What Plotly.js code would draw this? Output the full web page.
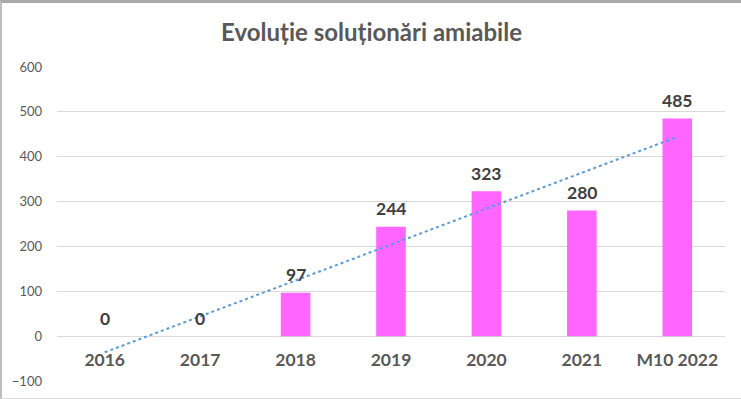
<!DOCTYPE html>
<html>
<head>
<meta charset="utf-8">
<script src="https://cdn.plot.ly/plotly-3.0.1.min.js"></script>
<style>
  html, body { margin: 0; padding: 0; background: #fff; }
  #wrap { width: 741px; height: 399px; box-sizing: border-box; border-top: 3px solid #a9a9a9; border-left: 2px solid #bdbdbd; border-bottom: 1px solid #dcdcdc; overflow: hidden; }
  #chart { width: 739px; height: 395px; }
</style>
</head>
<body>
<div id="wrap"><div id="chart"></div></div>
<script>
const categories = ["2016", "2017", "2018", "2019", "2020", "2021", "M10 2022"];
const values = [0, 0, 97, 244, 323, 280, 485];
const yTicks = [-100, 0, 100, 200, 300, 400, 500, 600];
const chartTitle = "Evoluție soluționări amiabile";

// Linear (least squares) trendline over category index, as in Excel
const n = values.length;
const xs = values.map((_, i) => i + 1);
const mx = xs.reduce((a, b) => a + b, 0) / n;
const my = values.reduce((a, b) => a + b, 0) / n;
let sxy = 0, sxx = 0;
xs.forEach((x, i) => { sxy += (x - mx) * (values[i] - my); sxx += (x - mx) * (x - mx); });
const slope = sxy / sxx;
const intercept = my - slope * mx;
const trend = xs.map(x => intercept + slope * x);

const FONT = "Lato, 'Open Sans', sans-serif";
const yMin = -100, yMax = 600;

const data = [
  {
    type: "bar",
    x: categories,
    y: values,
    width: 0.31,
    marker: { color: "#FF66FF" },
    hoverinfo: "none"
  },
  {
    type: "scatter",
    mode: "lines",
    x: categories,
    y: trend,
    line: { color: "#5B9BD5", width: 2, dash: "dot" },
    hoverinfo: "none"
  }
];

const annotations = categories.map((c, i) => ({
  x: i, y: values[i], xref: "x", yref: "y",
  text: String(values[i]),
  showarrow: false,
  yshift: 18,
  font: { family: FONT, size: 17.5, color: "#404040", weight: "bold" }
}));

const layout = {
  width: 739, height: 395,
  margin: { l: 55, r: 16, t: 64, b: 17 },
  paper_bgcolor: "#ffffff",
  plot_bgcolor: "#ffffff",
  showlegend: false,
  title: {
    text: chartTitle,
    x: 0.5, xanchor: "center",
    y: 0.925, yanchor: "middle", yref: "container",
    font: { family: FONT, size: 24, color: "#595959", weight: "bold" }
  },
  xaxis: {
    type: "category",
    domain: [0, 1],
    range: [-0.5, categories.length - 0.5],
    anchor: "free",
    position: (0 - yMin) / (yMax - yMin),
    showgrid: false,
    showline: false,
    zeroline: false,
    ticks: "",
    ticklabelstandoff: 11,
    tickfont: { family: FONT, size: 17.5, color: "#595959", weight: "bold" },
    fixedrange: true
  },
  yaxis: {
    domain: [0, 1],
    anchor: "free",
    position: 0,
    range: [yMin, yMax],
    tickvals: yTicks,
    showgrid: true,
    gridcolor: "#d9d9d9",
    gridwidth: 1,
    zeroline: true,
    zerolinecolor: "#d9d9d9",
    zerolinewidth: 1,
    showline: false,
    ticks: "",
    ticklabelstandoff: 15,
    tickfont: { family: FONT, size: 13, color: "#595959" },
    fixedrange: true
  },
  annotations: annotations
};

Plotly.newPlot("chart", data, layout, { displayModeBar: false, staticPlot: true });
</script>
</body>
</html>
